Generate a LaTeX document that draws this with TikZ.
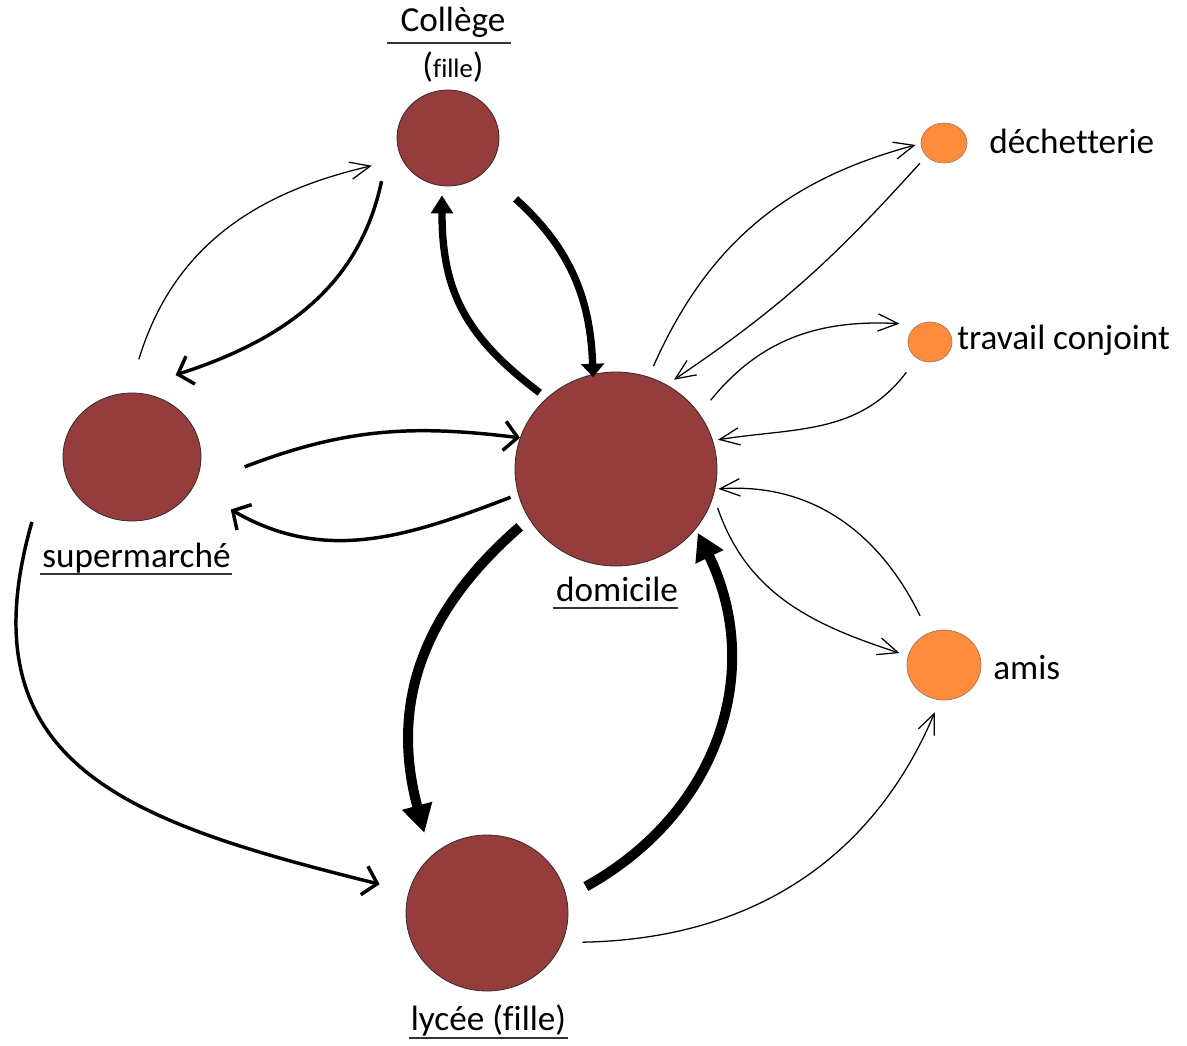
\documentclass[tikz,border=0pt]{standalone}
\usepackage{fontspec}
\setmainfont{Carlito}[Ligatures=NoCommon]
\usetikzlibrary{shapes.geometric,arrows.meta,calc}
\definecolor{maroon}{HTML}{953C3C}
\definecolor{orng}{HTML}{FF8B3D}
\definecolor{edge}{HTML}{3A2A2A}
\definecolor{oedge}{HTML}{A0785A}
\begin{document}
\begin{tikzpicture}[x=0.75pt,y=0.75pt,
  place/.style={ellipse,draw=edge,line width=0.6pt,fill=maroon,inner sep=0pt},
  small/.style={ellipse,draw=oedge,line width=0.5pt,fill=orng,inner sep=0pt},
  lab/.style={font=\fontsize{26.4}{30}\selectfont,inner sep=0pt,text=black},
  ul/.style={line width=1.5pt,draw=black!80},
  thinarr/.style={line width=0.95pt,-{Straight Barb[length=15pt,width=13pt]}},
  medarr/.style={line width=2.6pt,-{Straight Barb[length=10pt,width=22pt]}},
  thkarr/.style={line width=5.5pt},
  vthkarr/.style={line width=7.5pt}]
\useasboundingbox (0,0) rectangle (1187,-1045);
% nodes
\node[place,minimum width=76.5pt,minimum height=72pt] (col) at (448,-138) {};
\node[place,minimum width=151.5pt,minimum height=145.5pt] (dom) at (616,-469) {};
\node[place,minimum width=103.5pt,minimum height=96pt] (sup) at (132,-457) {};
\node[place,minimum width=121.5pt,minimum height=117pt] (lyc) at (487,-913) {};
\node[small,minimum width=34.5pt,minimum height=30pt] (dec) at (944,-143) {};
\node[small,minimum width=33pt,minimum height=30pt] (tra) at (930,-342) {};
\node[small,minimum width=55.5pt,minimum height=52.5pt] (ami) at (944,-665) {};
% labels
\node[lab,anchor=base] (colL) at (453,-32) {Collège};
\draw[ul] ($(colL.base west)+(-13,-11)$) -- ($(colL.base east)+(5,-11)$);
\node[lab,anchor=base] (colF) at (453,-78) {(\fontsize{20}{24}\selectfont fille\fontsize{26.4}{30}\selectfont)};
\node[lab,anchor=base] (supL) at (136.5,-567) {supermarché};
\draw[ul] ($(supL.base west)+(-2,-7)$) -- ($(supL.base east)+(1,-7)$);
\node[lab,anchor=base] (domL) at (617,-601) {domicile};
\draw[ul] ($(domL.base west)+(-3,-7)$) -- ($(domL.base east)+(0,-7)$);
\node[lab,anchor=base] (lycL) at (488.5,-1030) {lycée (fille)};
\draw[ul] ($(lycL.base west)+(-2,-8)$) -- ($(lycL.base east)+(2,-8)$);
\node[lab,anchor=base west] (decL) at (989,-153) {déchetterie};
\node[lab,anchor=base west] (traL) at (957,-349) {travail conjoint};
\node[lab,anchor=base west] (amiL) at (993,-679) {amis};
% thick arrows
\draw[thkarr,-{Triangle[length=10pt,width=17pt]}] ($(col)!1.82!(col.-42)$) to[out=-42,in=92] ($(dom)!0.97!(dom.104)$);
\draw[thkarr,-{Triangle[length=13.5pt,width=16pt]}] ($(dom)!1.086!(dom.135)$) to[out=143,in=-90,looseness=1.1] ($(col)!1.19!(col.264)$);
\draw[vthkarr,-{Triangle[length=21pt,width=22pt]}] ($(dom)!1.12!(dom.211)$) to[out=221,in=105,looseness=1.05] ($(lyc)!1.28!(lyc.128)$);
\draw[vthkarr,-{Triangle[length=20pt,width=22pt]}] ($(lyc)!1.26!(lyc.15)$) to[out=29,in=-64,looseness=1.05] ($(dom)!1.04!(dom.-38)$);
% medium arrows
\draw[medarr] ($(col)!1.57!(col.213)$) to[out=-102,in=18] ($(sup)!1.42!(sup.62)$);
\draw[medarr] ($(sup)!1.63!(sup.-5)$) to[out=21,in=173] (dom.162);
\draw[medarr] ($(dom)!1.08!(dom.195)$) to[out=201,in=-30] ($(sup)!1.64!(sup.-28)$);
\draw[medarr] ($(sup)!1.76!(sup.213)$) to[out=-106,in=166,looseness=1.3] ($(lyc)!1.37!(lyc.165)$);
% thin arrows
\draw[thinarr] ($(sup)!1.52!(sup.86)$) to[out=73,in=193] ($(col)!1.59!(col.200)$);
\draw[thinarr] ($(dom)!1.12!(dom.70)$) to[out=66,in=195] ($(dec)!1.22!(dec.184)$);
\draw[thinarr] ($(dec)!1.44!(dec.220)$) to[out=228,in=34] ($(dom)!1.08!(dom.57)$);
\draw[thinarr] ($(dom)!1.17!(dom.36)$) to[out=51,in=177] ($(tra)!1.64!(tra.149)$);
\draw[thinarr] ($(tra)!1.83!(tra.232)$) to[out=233,in=9] ($(dom)!1.05!(dom.16)$);
\draw[thinarr] ($(ami)!1.53!(ami.116)$) to[out=116,in=4] ($(dom)!1.03!(dom.-11)$);
\draw[thinarr] ($(dom)!1.08!(dom.-21)$) to[out=-71,in=162] ($(ami)!1.24!(ami.165)$);
\draw[thinarr] ($(lyc)!1.23!(lyc.-17)$) to[out=1,in=-113] ($(ami)!1.36!(ami.259)$);
\end{tikzpicture}
\end{document}
